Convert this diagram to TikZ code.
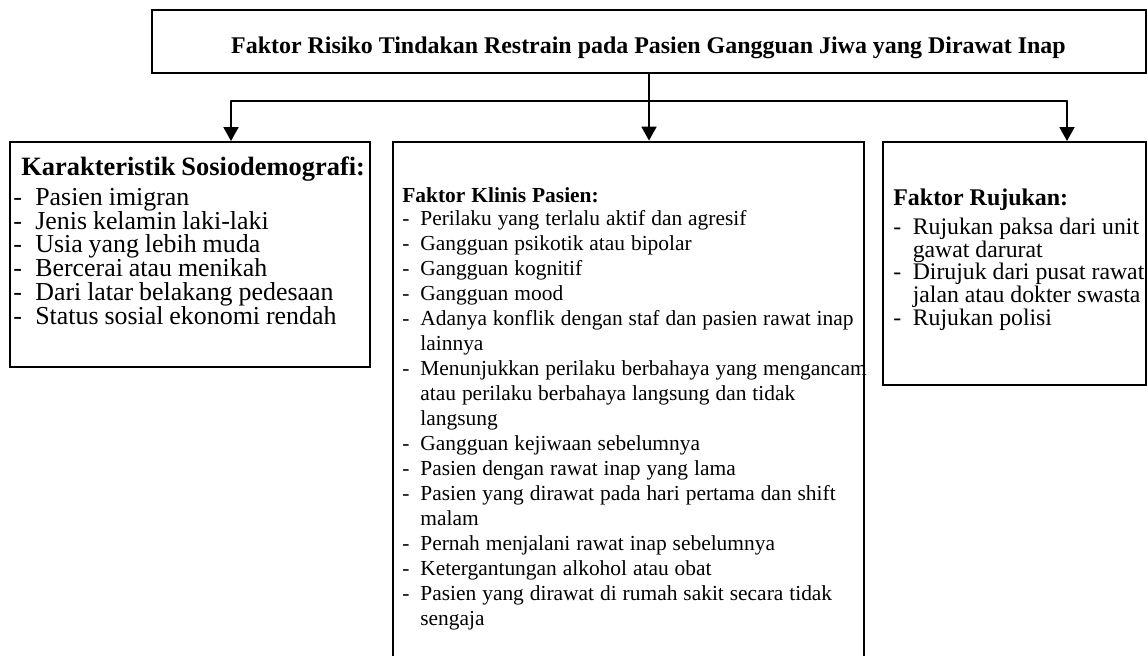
\documentclass[tikz,border=0pt]{standalone}
\usepackage{fontspec}
\setmainfont{Liberation Serif}
\usetikzlibrary{arrows.meta}
\newlength{\geser}
\newcommand{\butir}[1]{\par\noindent\makebox[\geser][l]{-}#1}
\newcommand{\lanjut}[1]{\par\noindent\hspace*{\geser}#1}
\begin{document}
\begin{tikzpicture}[line cap=round,line join=round,>={Triangle[length=7.8pt,width=8.4pt]},x=0.56pt,y=-0.56pt,
	kotak/.style={draw,line width=1.1pt,line join=miter,inner sep=0pt},
	isi/.style={anchor=base west,inner sep=0pt,text width=#1,align=left},
	panah/.style={line width=1pt}]
		\useasboundingbox (0,0) rectangle (1147,655);
		\node[kotak,minimum width=556.6pt,minimum height=35.3pt] (faktor) at (649,41.5) {};
		\node[kotak,minimum width=201.6pt,minimum height=126pt] (sosio) at (190,254.5) {};
		\node[kotak,minimum width=263.8pt,minimum height=313pt] (klinis) at (628.5,421) {};
		\node[kotak,minimum width=147.3pt,minimum height=136.1pt] (rujukan) at (1014.5,263.5) {};
		\node[anchor=base,inner sep=0pt,font=\fontsize{13.4}{16}\selectfont\bfseries] (judul) at (648.5,53)
			{Faktor Risiko Tindakan Restrain pada Pasien Gangguan Jiwa yang Dirawat Inap};
		\node[isi=224pt] (sositeks) at (13,175) {\lineskiplimit=-20pt\setlength{\geser}{12.3pt}%
			{\fontsize{14.8}{13.2}\selectfont\bfseries\hspace*{4.5pt}Karakteristik Sosiodemografi:}\par
			\vspace{3.6pt}\fontsize{14.5}{13.35}\selectfont
			\butir{Pasien imigran}
			\butir{Jenis kelamin laki-laki}
			\butir{Usia yang lebih muda}
			\butir{Bercerai atau menikah}
			\butir{Dari latar belakang pedesaan}
			\butir{Status sosial ekonomi rendah}\par};
		\node[isi=300pt] (klinisteks) at (402,202) {\lineskiplimit=-20pt\setlength{\geser}{10.1pt}%
			{\fontsize{12}{14}\selectfont\bfseries Faktor Klinis Pasien:}\par
			\vspace{-1.1pt}\fontsize{12}{14}\selectfont
			\butir{Perilaku yang terlalu aktif dan agresif}
			\butir{Gangguan psikotik atau bipolar}
			\butir{Gangguan kognitif}
			\butir{Gangguan mood}
			\butir{Adanya konflik dengan staf dan pasien rawat inap}
			\lanjut{lainnya}
			\butir{Menunjukkan perilaku berbahaya yang mengancam}
			\lanjut{atau perilaku berbahaya langsung dan tidak}
			\lanjut{langsung}
			\butir{Gangguan kejiwaan sebelumnya}
			\butir{Pasien dengan rawat inap yang lama}
			\butir{Pasien yang dirawat pada hari pertama dan shift}
			\lanjut{malam}
			\butir{Pernah menjalani rawat inap sebelumnya}
			\butir{Ketergantungan alkohol atau obat}
			\butir{Pasien yang dirawat di rumah sakit secara tidak}
			\lanjut{sengaja}\par};
		\node[isi=170pt] (rujukanteks) at (893,205) {\lineskiplimit=-20pt\setlength{\geser}{10.9pt}%
			{\fontsize{13.4}{12.6}\selectfont\bfseries Faktor Rujukan:}\par
			\vspace{3.8pt}\fontsize{13.3}{12.7}\selectfont
			\butir{Rujukan paksa dari unit}
			\lanjut{gawat darurat}
			\butir{Dirujuk dari pusat rawat}
			\lanjut{jalan atau dokter swasta}
			\butir{Rujukan polisi}\par};
		\coordinate (kiri) at (231,101);
		\coordinate (kanan) at (1067,101);
		\coordinate (cabang) at (faktor.south |- kiri);
		\draw[panah] (faktor.south) -- (cabang);
		\draw[panah] (kiri) -- (kanan);
		\draw[panah,->] (kiri) -- (kiri |- sosio.north);
		\draw[panah,->] (cabang) -- (cabang |- klinis.north);
		\draw[panah,->] (kanan) -- (kanan |- rujukan.north);
		\end{tikzpicture}
\end{document}
